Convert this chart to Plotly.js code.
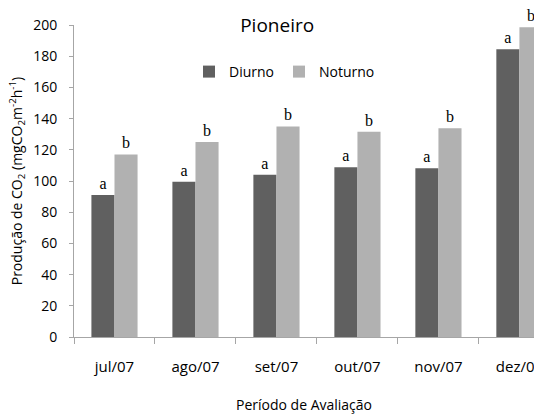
<!DOCTYPE html>
<html>
<head>
<meta charset="utf-8">
<script src="https://cdn.plot.ly/plotly-3.0.1.min.js"></script>
<style>html,body{margin:0;padding:0;background:#fff;overflow:hidden;}#chart{width:534px;height:414px;}</style>
</head>
<body>
<div id="chart"></div>
<script>
var categories = ["jul/07", "ago/07", "set/07", "out/07", "nov/07", "dez/07"];
var diurno = [91, 99.5, 104, 108.8, 108.2, 184.5];
var noturno = [117, 125, 135, 131.6, 133.8, 198.5];
var diurnoLetters = ["a", "a", "a", "a", "a", "a"];
var noturnoLetters = ["b", "b", "b", "b", "b", "b"];
var yTicks = [0, 20, 40, 60, 80, 100, 120, 140, 160, 180, 200];

var sansFont = "Open Sans, sans-serif";
var letterFont = {family: "Liberation Serif, Times New Roman, serif", size: 16, color: "#000000"};

var traces = [
  {type: "bar", name: "Diurno", x: categories, y: diurno, text: diurnoLetters,
   textposition: "outside", textfont: letterFont, outsidetextfont: letterFont,
   constraintext: "none", cliponaxis: false,
   marker: {color: "#606060"}, hoverinfo: "none"},
  {type: "bar", name: "Noturno", x: categories, y: noturno, text: noturnoLetters,
   textposition: "outside", textfont: letterFont, outsidetextfont: letterFont,
   constraintext: "none", cliponaxis: false,
   marker: {color: "#b1b1b1"}, hoverinfo: "none"}
];

var layout = {
  width: 534, height: 414,
  margin: {l: 74, r: 0, t: 25, b: 77, pad: 0, autoexpand: false},
  paper_bgcolor: "#fff", plot_bgcolor: "#fff",
  font: {family: sansFont, size: 14, color: "#000"},
  title: {text: "Pioneiro", font: {family: sansFont, size: 19, color: "#000"},
          x: 0.519, xref: "container", xanchor: "center", y: 1 - 25 / 414, yref: "container", yanchor: "middle"},
  barmode: "group", bargap: 0.43, bargroupgap: 0,
  showlegend: true,
  legend: {orientation: "h", x: 0.25, xref: "paper", xanchor: "left", y: (337 - 72) / 312, yref: "paper",
           yanchor: "middle", font: {family: sansFont, size: 14, color: "#000"}, itemwidth: 30,
           traceorder: "normal", bgcolor: "rgba(0,0,0,0)"},
  xaxis: {type: "category", range: [-0.5, 5.18], showline: true, linecolor: "#a6a6a6", linewidth: 1,
          ticks: "outside", tickson: "boundaries", ticklen: 6, tickcolor: "#a6a6a6",
          ticklabelstandoff: 16, automargin: false,
          tickfont: {family: sansFont, size: 15, color: "#000"}, showgrid: false, zeroline: false,
          title: {text: "Período de Avaliação", font: {family: sansFont, size: 14, color: "#000"}, standoff: 28},
          fixedrange: true},
  yaxis: {range: [0, 200], tickvals: yTicks, showline: true, linecolor: "#a6a6a6", linewidth: 1,
          ticks: "outside", ticklen: 4, tickcolor: "#a6a6a6", showgrid: false, zeroline: false,
          automargin: false,
          tickfont: {family: sansFont, size: 14, color: "#000"}, ticklabelstandoff: 9,
          title: {text: "Produção de CO<sub>2</sub> (mgCO<sub>2</sub>m<sup>-2</sup>h<sup>-1</sup>)",
                  font: {family: sansFont, size: 14, color: "#000"}, standoff: 7},
          fixedrange: true}
};

Plotly.newPlot("chart", traces, layout, {displayModeBar: false, staticPlot: true});
</script>
</body>
</html>
